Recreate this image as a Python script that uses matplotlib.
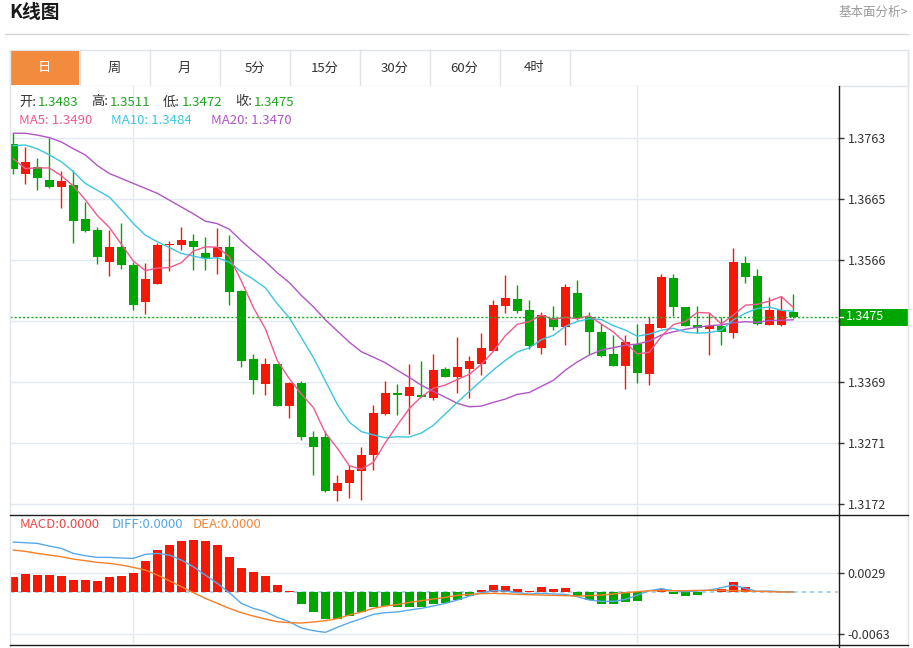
import matplotlib
matplotlib.use('Agg')
import matplotlib.pyplot as plt
import numpy as np
from matplotlib.patches import Rectangle

plt.rcParams['font.family'] = ['Noto Sans CJK SC', 'DejaVu Sans']

# ---------------- data ----------------
opens = [1.3753, 1.3705, 1.3716, 1.3696, 1.3684, 1.3687, 1.3632, 1.3614, 1.3563, 1.3588,
         1.3559, 1.3498, 1.3528, 1.3590, 1.3590, 1.3597, 1.3578, 1.3571, 1.3588, 1.3517,
         1.3406, 1.3366, 1.3398, 1.3330, 1.3367, 1.3280, 1.3280, 1.3193, 1.3206, 1.3226,
         1.3251, 1.3317, 1.3351, 1.3347, 1.3349, 1.3344, 1.3390, 1.3378, 1.3390, 1.3398,
         1.3419, 1.3492, 1.3504, 1.3485, 1.3425, 1.3473, 1.3458, 1.3513, 1.3474, 1.3450,
         1.3414, 1.3395, 1.3431, 1.3383, 1.3457, 1.3538, 1.3491, 1.3461, 1.3455, 1.3459,
         1.3449, 1.3562, 1.3540, 1.3461, 1.3461, 1.3483]
highs = [1.3771, 1.3749, 1.3731, 1.3764, 1.3710, 1.3711, 1.3660, 1.3620, 1.3614, 1.3626,
         1.3563, 1.3561, 1.3593, 1.3597, 1.3619, 1.3609, 1.3604, 1.3618, 1.3607, 1.3518,
         1.3414, 1.3408, 1.3399, 1.3369, 1.3371, 1.3291, 1.3291, 1.3219, 1.3235, 1.3264,
         1.3333, 1.3371, 1.3366, 1.3398, 1.3404, 1.3414, 1.3394, 1.3442, 1.3411, 1.3448,
         1.3501, 1.3542, 1.3526, 1.3501, 1.3482, 1.3492, 1.3528, 1.3534, 1.3482, 1.3463,
         1.3445, 1.3445, 1.3463, 1.3474, 1.3543, 1.3543, 1.3491, 1.3492, 1.3480, 1.3474,
         1.3585, 1.3572, 1.3551, 1.3507, 1.3508, 1.3511]
lows = [1.3706, 1.3689, 1.3680, 1.3683, 1.3650, 1.3593, 1.3612, 1.3560, 1.3541, 1.3552,
        1.3486, 1.3479, 1.3527, 1.3548, 1.3583, 1.3550, 1.3550, 1.3544, 1.3494, 1.3394,
        1.3350, 1.3349, 1.3330, 1.3311, 1.3275, 1.3219, 1.3192, 1.3177, 1.3182, 1.3178,
        1.3228, 1.3316, 1.3316, 1.3286, 1.3345, 1.3340, 1.3377, 1.3351, 1.3343, 1.3381,
        1.3419, 1.3480, 1.3480, 1.3423, 1.3415, 1.3453, 1.3429, 1.3469, 1.3414, 1.3409,
        1.3395, 1.3358, 1.3367, 1.3365, 1.3457, 1.3476, 1.3460, 1.3448, 1.3413, 1.3429,
        1.3440, 1.3530, 1.3461, 1.3461, 1.3459, 1.3472]
closes = [1.3713, 1.3724, 1.3698, 1.3684, 1.3694, 1.3629, 1.3613, 1.3571, 1.3588, 1.3558,
          1.3494, 1.3535, 1.3591, 1.3592, 1.3598, 1.3587, 1.3570, 1.3588, 1.3515, 1.3403,
          1.3373, 1.3398, 1.3331, 1.3368, 1.3280, 1.3264, 1.3193, 1.3207, 1.3227, 1.3251,
          1.3320, 1.3352, 1.3348, 1.3362, 1.3345, 1.3389, 1.3378, 1.3393, 1.3404, 1.3425,
          1.3494, 1.3505, 1.3484, 1.3427, 1.3478, 1.3458, 1.3522, 1.3473, 1.3450, 1.3411,
          1.3395, 1.3434, 1.3384, 1.3463, 1.3539, 1.3490, 1.3460, 1.3456, 1.3459, 1.3450,
          1.3563, 1.3539, 1.3463, 1.3485, 1.3486, 1.3475]

# moving-average values before enough visible history exists
ma5_head = [1.3730, 1.3714, 1.3715, 1.3715]
ma10_head = [1.3751, 1.3752, 1.3746, 1.3736, 1.3725, 1.3709, 1.3690, 1.3679, 1.3668]
ma20_head = [1.3771, 1.3771, 1.3768, 1.3764, 1.3757, 1.3746, 1.3736, 1.3719, 1.3706, 1.3698,
             1.3690, 1.3682, 1.3674, 1.3663, 1.3652, 1.3641, 1.3629, 1.3625, 1.3616]

macd_hist = [0.0023, 0.00266, 0.00255, 0.00255, 0.00245, 0.0018, 0.00175, 0.00165, 0.0022, 0.00235,
             0.0029, 0.00465, 0.00625, 0.0070, 0.0076, 0.0078, 0.0077, 0.0071, 0.0053, 0.0036,
             0.0030, 0.00245, 0.0010, 0.00012, -0.00185, -0.0030, -0.0041, -0.0040, -0.0036, -0.0030,
             -0.00225, -0.0021, -0.00225, -0.00225, -0.00225, -0.00185, -0.0017, -0.00125, -0.0006, 0.00025,
             0.00105, 0.00095, 0.0005, 0.0001, 0.0007, 0.0005, 0.0006, -0.00055, -0.00125, -0.00185,
             -0.00185, -0.00145, -0.0013, 0.00005, 0.00045, -0.00035, -0.0006, -0.0004, -0.00005, 0.00045,
             0.00155, 0.0008, 0.0, 0.0, 0.0, 0.0]
diff_line = [0.0075, 0.0074, 0.0073, 0.0069, 0.00655, 0.0058, 0.00545, 0.0052, 0.0052, 0.0051,
             0.00505, 0.00565, 0.0058, 0.00555, 0.0048, 0.0038, 0.00255, 0.0013, -0.0001, -0.0017,
             -0.00245, -0.00295, -0.0038, -0.00445, -0.0054, -0.0058, -0.00605, -0.0053, -0.0046, -0.0040,
             -0.00335, -0.0031, -0.0030, -0.0027, -0.00245, -0.0021, -0.0017, -0.0012, -0.0006, -0.0001,
             0.0002, 0.00015, -0.0001, -0.0003, -0.0002, -0.0003, -0.00035, -0.0007, -0.0012, -0.0014,
             -0.0014, -0.0011, -0.00045, 0.0002, 0.0005, 0.0002, 0.00005, 0.00015, 0.0003, 0.00065,
             0.00105, 0.00055, 0.0001, 0.00015, 0.00005, 0.00005]
dea_line = [0.0063, 0.0061, 0.0058, 0.00555, 0.0053, 0.00495, 0.0047, 0.00445, 0.0043, 0.00405,
            0.0037, 0.0033, 0.00255, 0.0017, 0.0008, -0.0001, -0.00095, -0.0017, -0.00245, -0.0031,
            -0.0036, -0.00405, -0.00445, -0.0046, -0.00465, -0.0045, -0.0043, -0.0040, -0.00345, -0.0030,
            -0.00245, -0.0021, -0.0019, -0.00155, -0.0013, -0.00105, -0.0008, -0.0005, -0.00035, -0.00025,
            -0.0002, -0.00025, -0.00035, -0.0004, -0.00045, -0.0005, -0.00055, -0.0006, -0.00055, -0.00045,
            -0.0003, -0.0001, 0.00005, 0.0002, 0.0002, 0.0002, 0.0002, 0.00025, 0.00025, 0.00025,
            0.0002, 0.00015, 0.0001, 0.00005, 0.0, 0.0]

ytick_values = [1.31723, 1.32708, 1.33693, 1.34678, 1.35663, 1.36648, 1.37633]
ytick_labels = ['1.3172', '1.3271', '1.3369', '', '1.3566', '1.3665', '1.3763']
macd_tick_values = [0.0029, -0.0063]
macd_tick_labels = ['0.0029', '-0.0063']
tabs = ['日', '周', '月', '5分', '15分', '30分', '60分', '4时']
vgrid_index = [10, 52]

# ---------------- styling ----------------
RED = '#f21a07'
GREEN = '#00a600'
MA5_C = '#ef5a8c'
MA10_C = '#3cc6e0'
MA20_C = '#b155c7'
GRID = '#e3eaf1'
W, H = 913, 648

O = np.array(opens); Hh = np.array(highs); L = np.array(lows); C = np.array(closes)
n = len(C)
x = np.arange(n)


def rolling(vals, k, head):
    out = np.array([np.mean(vals[i - k + 1:i + 1]) if i >= k - 1 else np.nan for i in range(len(vals))])
    out[:k - 1] = head
    return out


ma5 = rolling(C, 5, ma5_head)
ma10 = rolling(C, 10, ma10_head)
ma20 = rolling(C, 20, ma20_head)

fig = plt.figure(figsize=(W / 100, H / 100), dpi=100)
fig.patch.set_facecolor('white')


def fr(px_l, px_t, px_w, px_h):
    return [px_l / W, 1 - (px_t + px_h) / H, px_w / W, px_h / H]


# background overlay
bg = fig.add_axes([0, 0, 1, 1], zorder=0)
bg.set_xlim(0, W); bg.set_ylim(H, 0); bg.axis('off')

bg.text(9, 13, 'K线图', fontsize=13.5, fontweight='bold', color='#1a1a1a', va='center', ha='left')
bg.text(908, 12, '基本面分析>', fontsize=9, color='#9a9a9a', va='center', ha='right')
bg.plot([5, 908], [33.5, 33.5], color='#d6d6d6', lw=1)

# tab bar
bg.add_patch(Rectangle((9.5, 49.5), 898.5, 36, facecolor='white', edgecolor='#dfe4e8', lw=1))
bg.add_patch(Rectangle((10.5, 50.5), 68.5, 34.5, facecolor='#f28b3d', edgecolor='none'))
for k, t in enumerate(tabs):
    sx = 79.5 + 70 * k
    bg.plot([sx, sx], [49.5, 85.5], color='#dfe4e8', lw=1)
    bg.text(44.5 + 70 * k, 68, t, fontsize=9.5, ha='center', va='center',
            color='white' if k == 0 else '#333333')

# ---------------- main candle axes ----------------
ax = fig.add_axes(fr(10, 86, 828, 428), zorder=1)
ax.set_facecolor('white')
ax.set_xlim(-0.275, 68.72)
ax.set_ylim(1.31562, 1.38473)
for s in ax.spines.values():
    s.set_visible(False)
ax.set_yticks(ytick_values)
ax.set_yticklabels(ytick_labels)
ax.yaxis.tick_right()
ax.tick_params(axis='y', length=4, width=1, color='#333333', labelsize=9, labelcolor='#333333', pad=3)
ax.set_xticks(vgrid_index)
ax.tick_params(axis='x', length=0, labelbottom=False)
ax.grid(True, color=GRID, lw=1, zorder=0)
ax.set_axisbelow(True)

colors = np.where(C > O, RED, GREEN)
ax.vlines(x, L, Hh, colors=colors, lw=1, zorder=2)
body_bottom = np.minimum(O, C)
body_h = np.maximum(np.abs(C - O), 0.00012)
ax.bar(x, body_h, bottom=body_bottom, width=0.75, color=colors, lw=0, zorder=3)

ax.plot(x, ma20, color=MA20_C, lw=1, zorder=4)
ax.plot(x, ma10, color=MA10_C, lw=1, zorder=4)
ax.plot(x, ma5, color=MA5_C, lw=1, zorder=4)
ax.axhline(C[-1], color='#22a822', lw=1, ls=(0, (1.5, 1.5)), zorder=5)

# ---------------- MACD axes ----------------
ax2 = fig.add_axes(fr(10, 514, 828, 130), zorder=1)
ax2.set_facecolor('white')
ax2.set_xlim(-0.275, 68.72)
ax2.set_ylim(-0.0078, 0.01171)
for s in ax2.spines.values():
    s.set_visible(False)
ax2.set_yticks(macd_tick_values)
ax2.set_yticklabels(macd_tick_labels)
ax2.yaxis.tick_right()
ax2.tick_params(axis='y', length=4, width=1, color='#333333', labelsize=9, labelcolor='#333333', pad=3)
ax2.set_xticks(vgrid_index)
ax2.tick_params(axis='x', length=0, labelbottom=False)
ax2.grid(True, color=GRID, lw=1, zorder=0)
ax2.set_axisbelow(True)

hist = np.array(macd_hist)
ax2.axhline(0, xmin=0, xmax=1, color='#a9d5ef', lw=1.5, ls=(0, (2, 2)), zorder=1)
hcol = np.where(hist >= 0, RED, GREEN)
ax2.bar(x, hist, width=0.7, color=hcol, lw=0, zorder=2)
ax2.plot(x, diff_line, color='#58a9ec', lw=1, zorder=3)
ax2.plot(x, dea_line, color='#f57f26', lw=1, zorder=3)

# ---------------- top overlay ----------------
ov = fig.add_axes([0, 0, 1, 1], zorder=3)
ov.set_xlim(0, W); ov.set_ylim(H, 0); ov.axis('off')
ov.patch.set_alpha(0)

ov.plot([9.5, 9.5], [49.5, 648], color='#dfe4e8', lw=1)
ov.plot([908, 908], [49.5, 648], color='#dfe4e8', lw=1)
ov.plot([10, 908], [514.5, 514.5], color='#1e1e1e', lw=1)
ov.plot([10, 908], [644.5, 644.5], color='#1e1e1e', lw=1)
ov.plot([838.5, 838.5], [86, 648], color='#1e1e1e', lw=1)

# last price box
ov.add_patch(Rectangle((839.5, 308.5), 68, 17, facecolor=GREEN, edgecolor='none'))
ov.plot([839.5, 843], [317, 317], color='white', lw=1)
ov.text(846, 317, f'{C[-1]:.4f}', fontsize=9, color='white', va='center', ha='left')

# info text
lab_c = '#333333'
val_c = '#1ea51e'
info = [('开:', O[-1]), ('高:', Hh[-1]), ('低:', L[-1]), ('收:', C[-1])]
for k, (lab, v) in enumerate(info):
    x0 = 19 + 72 * k
    ov.text(x0, 102, lab, fontsize=9.5, color=lab_c, va='center', ha='left')
    ov.text(x0 + 19, 102, f'{v:.4f}', fontsize=9.5, color=val_c, va='center', ha='left')

ov.text(19, 120, f'MA5: {ma5[-1]:.4f}', fontsize=9.5, color=MA5_C, va='center', ha='left')
ov.text(111, 120, f'MA10: {ma10[-1]:.4f}', fontsize=9.5, color=MA10_C, va='center', ha='left')
ov.text(211, 120, f'MA20: {ma20[-1]:.4f}', fontsize=9.5, color=MA20_C, va='center', ha='left')

ov.text(20, 525, 'MACD:0.0000', fontsize=9.5, color='#e84a4a', va='center', ha='left')
ov.text(112, 525, 'DIFF:0.0000', fontsize=9.5, color='#55a8ec', va='center', ha='left')
ov.text(193, 525, 'DEA:0.0000', fontsize=9.5, color='#f5883a', va='center', ha='left')

fig.savefig('out.png', dpi=100)
